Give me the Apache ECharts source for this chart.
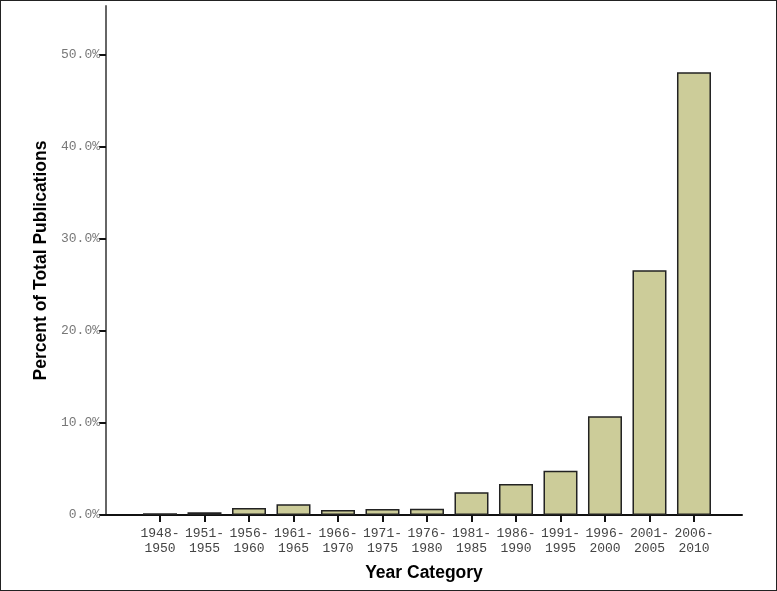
<!DOCTYPE html>
<html><head><meta charset="utf-8">
<script src="https://cdn.jsdelivr.net/npm/echarts@6/dist/echarts.min.js"></script>
<style>
html,body{margin:0;padding:0;background:#fff;}
#c{width:775px;height:589px;border:1px solid #222;}
</style></head>
<body><div id="c"></div>
<script>
const categories = ['1948-\n1950','1951-\n1955','1956-\n1960','1961-\n1965','1966-\n1970','1971-\n1975','1976-\n1980','1981-\n1985','1986-\n1990','1991-\n1995','1996-\n2000','2001-\n2005','2006-\n2010'];
const percents = [0.18, 0.3, 0.76, 1.16, 0.54, 0.65, 0.68, 2.47, 3.37, 4.82, 10.73, 26.6, 48.1];
const yTicks = [0, 10, 20, 30, 40, 50];
const idx = categories.map((c, i) => i);

const chart = echarts.init(document.getElementById('c'), null, {renderer: 'canvas'});
chart.setOption({
  animation: false,
  grid: {left: 105, right: 34, top: 5, bottom: 75, containLabel: false},
  xAxis: {
    type: 'value', min: -1.2135, max: 13.079,
    name: 'Year Category', nameLocation: 'middle', nameGap: 49,
    nameTextStyle: {fontFamily: 'Liberation Sans', fontWeight: 'bold', fontSize: 17.5, color: '#000'},
    axisLine: {show: true, onZero: false, lineStyle: {color: '#111', width: 2}},
    axisTick: {show: true, customValues: idx, length: 7, lineStyle: {color: '#111', width: 2}},
    axisLabel: {customValues: idx, formatter: v => categories[Math.round(v)] || '', margin: 11,
      fontFamily: 'Liberation Mono', fontSize: 13, color: '#444', lineHeight: 15},
    splitLine: {show: false}
  },
  yAxis: {
    type: 'value', min: 0, max: 55.3,
    name: 'Percent of Total Publications', nameLocation: 'middle', nameGap: 55,
    nameTextStyle: {fontFamily: 'Liberation Sans', fontWeight: 'bold', fontSize: 17.5, color: '#000'},
    axisLine: {show: true, onZero: false, lineStyle: {color: '#666', width: 2}},
    axisTick: {show: true, customValues: yTicks, length: 7, lineStyle: {color: '#111', width: 2}},
    axisLabel: {customValues: yTicks, formatter: v => v.toFixed(1) + '%', margin: 6,
      fontFamily: 'Liberation Mono', fontSize: 13, color: '#777'},
    splitLine: {show: false}
  },
  series: [{
    type: 'bar',
    data: idx.map(i => [i, percents[i]]),
    barWidth: 34,
    itemStyle: {color: '#cccc99', borderColor: '#222', borderWidth: 1.5}
  }]
});
</script></body></html>
